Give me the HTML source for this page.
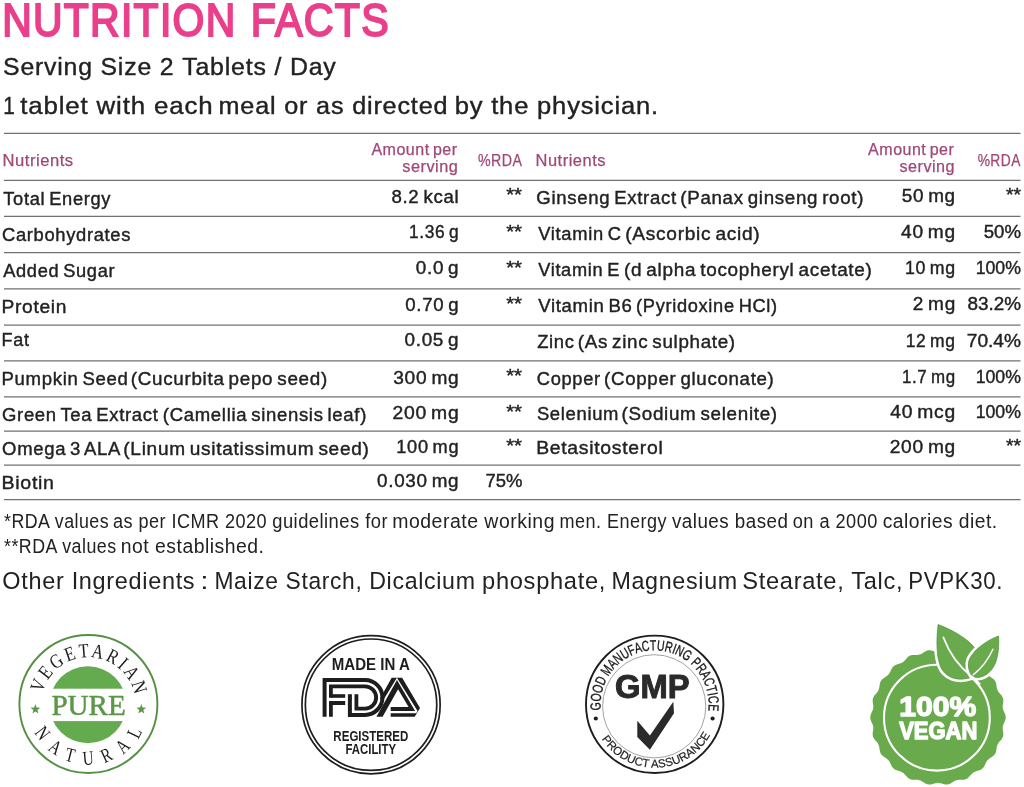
<!DOCTYPE html>
<html lang="en">
<head>
<meta charset="utf-8">
<title>Nutrition Facts</title>
<style>
html,body{margin:0;padding:0;background:#fff;}
body{width:1024px;height:787px;overflow:hidden;}
svg{display:block;}
svg text{font-family:"Liberation Sans", Arial, sans-serif;}
svg text.serif{font-family:"Liberation Serif", "Times New Roman", serif;}
</style>
</head>
<body>
<svg width="1024" height="787" viewBox="0 0 1024 787">
<rect width="1024" height="787" fill="#ffffff"/>
<g id="heading">
<text y="36.05" font-size="46.50" fill="#ea3f8b" stroke="#ea3f8b" stroke-width="2.0" letter-spacing="1.5" stroke-linejoin="miter"><tspan x="2.13" textLength="234.41" lengthAdjust="spacingAndGlyphs">NUTRITION</tspan> <tspan x="250.70" textLength="139.39" lengthAdjust="spacingAndGlyphs">FACTS</tspan></text>
<text y="75.40" font-size="24.70" fill="#222222" stroke="#222222" stroke-width="0.4" letter-spacing="0.8"><tspan x="3.08" textLength="171.21" lengthAdjust="spacingAndGlyphs">Serving Size 2</tspan> <tspan x="182.20" textLength="154.41" lengthAdjust="spacingAndGlyphs">Tablets / Day</tspan></text>
<text y="113.90" font-size="24.70" fill="#222222" stroke="#222222" stroke-width="0.4" letter-spacing="0.8"><tspan x="3.25" textLength="12.18" lengthAdjust="spacingAndGlyphs">1</tspan> <tspan x="20.31" textLength="193.10" lengthAdjust="spacingAndGlyphs">tablet with each</tspan> <tspan x="218.56" textLength="229.79" lengthAdjust="spacingAndGlyphs">meal or as directed</tspan> <tspan x="454.67" textLength="204.23" lengthAdjust="spacingAndGlyphs">by the physician.</tspan></text>
</g>
<g id="rules" stroke="#707070" stroke-width="1.25">
<line x1="4" x2="1020.5" y1="133.3" y2="133.3"/>
<line x1="4" x2="1020.5" y1="180.4" y2="180.4"/>
<line x1="4" x2="1020.5" y1="216.3" y2="216.3"/>
<line x1="4" x2="1020.5" y1="252.5" y2="252.5"/>
<line x1="4" x2="1020.5" y1="288.8" y2="288.8"/>
<line x1="4" x2="1020.5" y1="325" y2="325"/>
<line x1="4" x2="1020.5" y1="360.8" y2="360.8"/>
<line x1="4" x2="1020.5" y1="396.8" y2="396.8"/>
<line x1="4" x2="1020.5" y1="431" y2="431"/>
<line x1="4" x2="1020.5" y1="465.2" y2="465.2"/>
<line x1="4" x2="1020.5" y1="499.5" y2="499.5"/>
</g>
<g id="table-head">
<text y="165.90" font-size="16.00" fill="#a04878" stroke="#a04878" stroke-width="0.25" word-spacing="-1.6" letter-spacing="0.5"><tspan x="2.60" textLength="71.00" lengthAdjust="spacingAndGlyphs">Nutrients</tspan></text>
<text y="154.50" font-size="16.00" fill="#a04878" stroke="#a04878" stroke-width="0.25" word-spacing="-1.6" letter-spacing="0.5"><tspan x="371.38" textLength="86.23" lengthAdjust="spacingAndGlyphs">Amount per</tspan></text>
<text y="171.75" font-size="16.00" fill="#a04878" stroke="#a04878" stroke-width="0.25" word-spacing="-1.6" letter-spacing="0.5"><tspan x="402.22" textLength="56.12" lengthAdjust="spacingAndGlyphs">serving</tspan></text>
<text y="166.25" font-size="16.00" fill="#a04878" stroke="#a04878" stroke-width="0.25" word-spacing="-1.6" letter-spacing="0.5"><tspan x="477.88" textLength="44.45" lengthAdjust="spacingAndGlyphs">%RDA</tspan></text>
<text y="165.90" font-size="16.00" fill="#a04878" stroke="#a04878" stroke-width="0.25" word-spacing="-1.6" letter-spacing="0.5"><tspan x="535.56" textLength="70.43" lengthAdjust="spacingAndGlyphs">Nutrients</tspan></text>
<text y="154.50" font-size="16.00" fill="#a04878" stroke="#a04878" stroke-width="0.25" word-spacing="-1.6" letter-spacing="0.5"><tspan x="868.12" textLength="86.23" lengthAdjust="spacingAndGlyphs">Amount per</tspan></text>
<text y="171.75" font-size="16.00" fill="#a04878" stroke="#a04878" stroke-width="0.25" word-spacing="-1.6" letter-spacing="0.5"><tspan x="899.47" textLength="55.61" lengthAdjust="spacingAndGlyphs">serving</tspan></text>
<text y="166.25" font-size="16.00" fill="#a04878" stroke="#a04878" stroke-width="0.25" word-spacing="-1.6" letter-spacing="0.5"><tspan x="977.64" textLength="43.17" lengthAdjust="spacingAndGlyphs">%RDA</tspan></text>
</g>
<g id="table-left">
<text y="204.50" font-size="19.10" fill="#222222" stroke="#222222" stroke-width="0.42" word-spacing="-1.91" letter-spacing="0.7"><tspan x="3.24" textLength="107.94" lengthAdjust="spacingAndGlyphs">Total Energy</tspan></text>
<text y="202.50" font-size="19.10" fill="#222222" stroke="#222222" stroke-width="0.42" word-spacing="-1.91" letter-spacing="0.7"><tspan x="391.46" textLength="67.85" lengthAdjust="spacingAndGlyphs">8.2 kcal</tspan></text>
<text y="201.40" font-size="19.10" fill="#222222" stroke="#222222" stroke-width="0.42" word-spacing="-1.91"><tspan x="506.15" textLength="15.91" lengthAdjust="spacingAndGlyphs">**</tspan></text>
<text y="240.75" font-size="19.10" fill="#222222" stroke="#222222" stroke-width="0.42" word-spacing="-1.91" letter-spacing="0.7"><tspan x="1.99" textLength="129.10" lengthAdjust="spacingAndGlyphs">Carbohydrates</tspan></text>
<text y="238.25" font-size="19.10" fill="#222222" stroke="#222222" stroke-width="0.42" word-spacing="-1.91" letter-spacing="0.7"><tspan x="408.91" textLength="50.26" lengthAdjust="spacingAndGlyphs">1.36 g</tspan></text>
<text y="237.50" font-size="19.10" fill="#222222" stroke="#222222" stroke-width="0.42" word-spacing="-1.91"><tspan x="506.15" textLength="15.91" lengthAdjust="spacingAndGlyphs">**</tspan></text>
<text y="277.00" font-size="19.10" fill="#222222" stroke="#222222" stroke-width="0.42" word-spacing="-1.91" letter-spacing="0.7"><tspan x="3.21" textLength="111.99" lengthAdjust="spacingAndGlyphs">Added Sugar</tspan></text>
<text y="274.25" font-size="19.10" fill="#222222" stroke="#222222" stroke-width="0.42" word-spacing="-1.91" letter-spacing="0.7"><tspan x="415.80" textLength="43.50" lengthAdjust="spacingAndGlyphs">0.0 g</tspan></text>
<text y="273.70" font-size="19.10" fill="#222222" stroke="#222222" stroke-width="0.42" word-spacing="-1.91"><tspan x="506.15" textLength="15.91" lengthAdjust="spacingAndGlyphs">**</tspan></text>
<text y="313.10" font-size="19.10" fill="#222222" stroke="#222222" stroke-width="0.42" word-spacing="-1.91" letter-spacing="0.7"><tspan x="1.47" textLength="65.74" lengthAdjust="spacingAndGlyphs">Protein</tspan></text>
<text y="310.50" font-size="19.10" fill="#222222" stroke="#222222" stroke-width="0.42" word-spacing="-1.91" letter-spacing="0.7"><tspan x="405.31" textLength="53.99" lengthAdjust="spacingAndGlyphs">0.70 g</tspan></text>
<text y="309.90" font-size="19.10" fill="#222222" stroke="#222222" stroke-width="0.42" word-spacing="-1.91"><tspan x="506.15" textLength="15.91" lengthAdjust="spacingAndGlyphs">**</tspan></text>
<text y="346.25" font-size="19.10" fill="#222222" stroke="#222222" stroke-width="0.42" word-spacing="-1.91" letter-spacing="0.7"><tspan x="1.57" textLength="27.97" lengthAdjust="spacingAndGlyphs">Fat</tspan></text>
<text y="346.25" font-size="19.10" fill="#222222" stroke="#222222" stroke-width="0.42" word-spacing="-1.91" letter-spacing="0.7"><tspan x="404.55" textLength="54.77" lengthAdjust="spacingAndGlyphs">0.05 g</tspan></text>
<text y="384.50" font-size="19.10" fill="#222222" stroke="#222222" stroke-width="0.42" word-spacing="-1.91" letter-spacing="0.7"><tspan x="1.52" textLength="127.04" lengthAdjust="spacingAndGlyphs">Pumpkin Seed</tspan> <tspan x="130.83" textLength="197.03" lengthAdjust="spacingAndGlyphs">(Cucurbita pepo seed)</tspan></text>
<text y="384.25" font-size="19.10" fill="#222222" stroke="#222222" stroke-width="0.42" word-spacing="-1.91" letter-spacing="0.7"><tspan x="393.29" textLength="66.06" lengthAdjust="spacingAndGlyphs">300 mg</tspan></text>
<text y="381.90" font-size="19.10" fill="#222222" stroke="#222222" stroke-width="0.42" word-spacing="-1.91"><tspan x="506.15" textLength="15.91" lengthAdjust="spacingAndGlyphs">**</tspan></text>
<text y="420.50" font-size="19.10" fill="#222222" stroke="#222222" stroke-width="0.42" word-spacing="-1.91" letter-spacing="0.7"><tspan x="1.99" textLength="156.50" lengthAdjust="spacingAndGlyphs">Green Tea Extract</tspan> <tspan x="162.85" textLength="204.18" lengthAdjust="spacingAndGlyphs">(Camellia sinensis leaf)</tspan></text>
<text y="418.75" font-size="19.10" fill="#222222" stroke="#222222" stroke-width="0.42" word-spacing="-1.91" letter-spacing="0.7"><tspan x="392.49" textLength="66.88" lengthAdjust="spacingAndGlyphs">200 mg</tspan></text>
<text y="418.10" font-size="19.10" fill="#222222" stroke="#222222" stroke-width="0.42" word-spacing="-1.91"><tspan x="506.15" textLength="15.91" lengthAdjust="spacingAndGlyphs">**</tspan></text>
<text y="455.00" font-size="19.10" fill="#222222" stroke="#222222" stroke-width="0.42" word-spacing="-1.91" letter-spacing="0.7"><tspan x="2.08" textLength="117.90" lengthAdjust="spacingAndGlyphs">Omega 3 ALA</tspan> <tspan x="123.32" textLength="246.23" lengthAdjust="spacingAndGlyphs">(Linum usitatissimum seed)</tspan></text>
<text y="453.00" font-size="19.10" fill="#222222" stroke="#222222" stroke-width="0.42" word-spacing="-1.91" letter-spacing="0.7"><tspan x="396.34" textLength="62.92" lengthAdjust="spacingAndGlyphs">100 mg</tspan></text>
<text y="452.10" font-size="19.10" fill="#222222" stroke="#222222" stroke-width="0.42" word-spacing="-1.91"><tspan x="506.15" textLength="15.91" lengthAdjust="spacingAndGlyphs">**</tspan></text>
<text y="488.90" font-size="19.10" fill="#222222" stroke="#222222" stroke-width="0.42" word-spacing="-1.91" letter-spacing="0.7"><tspan x="1.44" textLength="53.27" lengthAdjust="spacingAndGlyphs">Biotin</tspan></text>
<text y="487.00" font-size="19.10" fill="#222222" stroke="#222222" stroke-width="0.42" word-spacing="-1.91" letter-spacing="0.7"><tspan x="377.05" textLength="82.25" lengthAdjust="spacingAndGlyphs">0.030 mg</tspan></text>
<text y="487.00" font-size="19.10" fill="#222222" stroke="#222222" stroke-width="0.42" word-spacing="-1.91"><tspan x="485.54" textLength="36.93" lengthAdjust="spacingAndGlyphs">75%</tspan></text>
</g>
<g id="table-right">
<text y="204.00" font-size="19.10" fill="#222222" stroke="#222222" stroke-width="0.42" word-spacing="-1.91" letter-spacing="0.7"><tspan x="536.28" textLength="140.52" lengthAdjust="spacingAndGlyphs">Ginseng Extract</tspan> <tspan x="680.34" textLength="183.73" lengthAdjust="spacingAndGlyphs">(Panax ginseng root)</tspan></text>
<text y="202.00" font-size="19.10" fill="#222222" stroke="#222222" stroke-width="0.42" word-spacing="-1.91" letter-spacing="0.7"><tspan x="901.70" textLength="54.15" lengthAdjust="spacingAndGlyphs">50 mg</tspan></text>
<text y="201.40" font-size="19.10" fill="#222222" stroke="#222222" stroke-width="0.42" word-spacing="-1.91"><tspan x="1005.92" textLength="15.13" lengthAdjust="spacingAndGlyphs">**</tspan></text>
<text y="240.00" font-size="19.10" fill="#222222" stroke="#222222" stroke-width="0.42" word-spacing="-1.91" letter-spacing="0.7"><tspan x="538.21" textLength="83.42" lengthAdjust="spacingAndGlyphs">Vitamin C</tspan> <tspan x="625.31" textLength="135.04" lengthAdjust="spacingAndGlyphs">(Ascorbic acid)</tspan></text>
<text y="238.00" font-size="19.10" fill="#222222" stroke="#222222" stroke-width="0.42" word-spacing="-1.91" letter-spacing="0.7"><tspan x="901.08" textLength="54.80" lengthAdjust="spacingAndGlyphs">40 mg</tspan></text>
<text y="238.00" font-size="19.10" fill="#222222" stroke="#222222" stroke-width="0.42" word-spacing="-1.91"><tspan x="983.72" textLength="37.25" lengthAdjust="spacingAndGlyphs">50%</tspan></text>
<text y="276.25" font-size="19.10" fill="#222222" stroke="#222222" stroke-width="0.42" word-spacing="-1.91" letter-spacing="0.7"><tspan x="538.21" textLength="81.75" lengthAdjust="spacingAndGlyphs">Vitamin E</tspan> <tspan x="624.07" textLength="248.49" lengthAdjust="spacingAndGlyphs">(d alpha tocopheryl acetate)</tspan></text>
<text y="273.75" font-size="19.10" fill="#222222" stroke="#222222" stroke-width="0.42" word-spacing="-1.91" letter-spacing="0.7"><tspan x="904.88" textLength="50.87" lengthAdjust="spacingAndGlyphs">10 mg</tspan></text>
<text y="273.75" font-size="19.10" fill="#222222" stroke="#222222" stroke-width="0.42" word-spacing="-1.91"><tspan x="975.63" textLength="45.23" lengthAdjust="spacingAndGlyphs">100%</tspan></text>
<text y="312.30" font-size="19.10" fill="#222222" stroke="#222222" stroke-width="0.42" word-spacing="-1.91" letter-spacing="0.7"><tspan x="538.21" textLength="94.30" lengthAdjust="spacingAndGlyphs">Vitamin B6</tspan> <tspan x="636.12" textLength="141.68" lengthAdjust="spacingAndGlyphs">(Pyridoxine HCl)</tspan></text>
<text y="310.00" font-size="19.10" fill="#222222" stroke="#222222" stroke-width="0.42" word-spacing="-1.91" letter-spacing="0.7"><tspan x="912.76" textLength="43.18" lengthAdjust="spacingAndGlyphs">2 mg</tspan></text>
<text y="310.00" font-size="19.10" fill="#222222" stroke="#222222" stroke-width="0.42" word-spacing="-1.91"><tspan x="967.46" textLength="53.50" lengthAdjust="spacingAndGlyphs">83.2%</tspan></text>
<text y="348.25" font-size="19.10" fill="#222222" stroke="#222222" stroke-width="0.42" word-spacing="-1.91" letter-spacing="0.7"><tspan x="537.16" textLength="37.50" lengthAdjust="spacingAndGlyphs">Zinc</tspan> <tspan x="577.83" textLength="157.99" lengthAdjust="spacingAndGlyphs">(As zinc sulphate)</tspan></text>
<text y="346.75" font-size="19.10" fill="#222222" stroke="#222222" stroke-width="0.42" word-spacing="-1.91" letter-spacing="0.7"><tspan x="905.65" textLength="50.07" lengthAdjust="spacingAndGlyphs">12 mg</tspan></text>
<text y="346.75" font-size="19.10" fill="#222222" stroke="#222222" stroke-width="0.42" word-spacing="-1.91"><tspan x="966.75" textLength="54.21" lengthAdjust="spacingAndGlyphs">70.4%</tspan></text>
<text y="384.50" font-size="19.10" fill="#222222" stroke="#222222" stroke-width="0.42" word-spacing="-1.91" letter-spacing="0.7"><tspan x="536.80" textLength="63.94" lengthAdjust="spacingAndGlyphs">Copper</tspan> <tspan x="604.09" textLength="170.43" lengthAdjust="spacingAndGlyphs">(Copper gluconate)</tspan></text>
<text y="382.50" font-size="19.10" fill="#222222" stroke="#222222" stroke-width="0.42" word-spacing="-1.91" letter-spacing="0.7"><tspan x="901.94" textLength="53.77" lengthAdjust="spacingAndGlyphs">1.7 mg</tspan></text>
<text y="382.50" font-size="19.10" fill="#222222" stroke="#222222" stroke-width="0.42" word-spacing="-1.91"><tspan x="975.63" textLength="45.23" lengthAdjust="spacingAndGlyphs">100%</tspan></text>
<text y="420.00" font-size="19.10" fill="#222222" stroke="#222222" stroke-width="0.42" word-spacing="-1.91" letter-spacing="0.7"><tspan x="536.88" textLength="82.27" lengthAdjust="spacingAndGlyphs">Selenium</tspan> <tspan x="621.58" textLength="156.21" lengthAdjust="spacingAndGlyphs">(Sodium selenite)</tspan></text>
<text y="418.25" font-size="19.10" fill="#222222" stroke="#222222" stroke-width="0.42" word-spacing="-1.91" letter-spacing="0.7"><tspan x="890.32" textLength="65.57" lengthAdjust="spacingAndGlyphs">40 mcg</tspan></text>
<text y="418.25" font-size="19.10" fill="#222222" stroke="#222222" stroke-width="0.42" word-spacing="-1.91"><tspan x="975.63" textLength="45.23" lengthAdjust="spacingAndGlyphs">100%</tspan></text>
<text y="453.75" font-size="19.10" fill="#222222" stroke="#222222" stroke-width="0.42" word-spacing="-1.91" letter-spacing="0.7"><tspan x="536.16" textLength="127.33" lengthAdjust="spacingAndGlyphs">Betasitosterol</tspan></text>
<text y="452.50" font-size="19.10" fill="#222222" stroke="#222222" stroke-width="0.42" word-spacing="-1.91" letter-spacing="0.7"><tspan x="889.75" textLength="66.15" lengthAdjust="spacingAndGlyphs">200 mg</tspan></text>
<text y="452.10" font-size="19.10" fill="#222222" stroke="#222222" stroke-width="0.42" word-spacing="-1.91"><tspan x="1005.92" textLength="15.13" lengthAdjust="spacingAndGlyphs">**</tspan></text>
</g>
<g id="footnotes">
<text y="528.20" font-size="19.50" fill="#222222" letter-spacing="0.5"><tspan x="4.03" textLength="105.03" lengthAdjust="spacingAndGlyphs">*RDA values</tspan> <tspan x="113.03" textLength="154.07" lengthAdjust="spacingAndGlyphs">as per ICMR 2020</tspan> <tspan x="272.27" textLength="115.70" lengthAdjust="spacingAndGlyphs">guidelines for</tspan> <tspan x="392.23" textLength="162.75" lengthAdjust="spacingAndGlyphs">moderate working</tspan> <tspan x="559.58" textLength="107.38" lengthAdjust="spacingAndGlyphs">men. Energy</tspan> <tspan x="672.00" textLength="116.42" lengthAdjust="spacingAndGlyphs">values based</tspan> <tspan x="792.77" textLength="85.06" lengthAdjust="spacingAndGlyphs">on a 2000</tspan> <tspan x="882.73" textLength="114.97" lengthAdjust="spacingAndGlyphs">calories diet.</tspan></text>
<text y="553.40" font-size="19.50" fill="#222222" letter-spacing="0.5"><tspan x="4.03" textLength="112.51" lengthAdjust="spacingAndGlyphs">**RDA values</tspan> <tspan x="120.74" textLength="143.75" lengthAdjust="spacingAndGlyphs">not established.</tspan></text>
<text y="588.90" font-size="23.90" fill="#222222" letter-spacing="0.7"><tspan x="2.34" textLength="192.95" lengthAdjust="spacingAndGlyphs">Other Ingredients</tspan> <tspan x="200.30" textLength="9.21" lengthAdjust="spacingAndGlyphs">:</tspan> <tspan x="214.43" textLength="148.01" lengthAdjust="spacingAndGlyphs">Maize Starch,</tspan> <tspan x="369.15" textLength="106.52" lengthAdjust="spacingAndGlyphs">Dicalcium</tspan> <tspan x="482.08" textLength="123.96" lengthAdjust="spacingAndGlyphs">phosphate,</tspan> <tspan x="611.39" textLength="126.54" lengthAdjust="spacingAndGlyphs">Magnesium</tspan> <tspan x="742.18" textLength="102.35" lengthAdjust="spacingAndGlyphs">Stearate,</tspan> <tspan x="851.28" textLength="51.94" lengthAdjust="spacingAndGlyphs">Talc,</tspan> <tspan x="908.22" textLength="94.90" lengthAdjust="spacingAndGlyphs">PVPK30.</tspan></text>
</g>
<g id="badge-vegetarian">
<circle cx="88.4" cy="704.0" r="69" fill="none" stroke="#558f43" stroke-width="1.9"/>
<circle cx="87.9" cy="704.75" r="38.5" fill="#63ab4e"/>
<rect x="45" y="688.7" width="86" height="32.4" fill="#fff"/>
<text x="51.42" y="714.70" font-size="29.50" fill="#5a9748" textLength="74.37" lengthAdjust="spacingAndGlyphs" class="serif" stroke="#5a9748" stroke-width="0.5" stroke-linejoin="round">PURE</text>
<polygon points="35.40,704.10 36.63,707.60 40.35,707.69 37.40,709.95 38.46,713.51 35.40,711.40 32.34,713.51 33.40,709.95 30.45,707.69 34.17,707.60" fill="#5a9748"/>
<polygon points="141.30,704.10 142.53,707.60 146.25,707.69 143.30,709.95 144.36,713.51 141.30,711.40 138.24,713.51 139.30,709.95 136.35,707.69 140.07,707.60" fill="#5a9748"/>
<path id="veg-top" d="M 88.40 751.60 A 47.20 47.20 0 1 1 88.41 751.60" fill="none"/>
<path id="veg-bot" d="M 88.40 643.40 A 60.60 60.60 0 1 0 88.41 643.40" fill="none"/>
<text font-size="20.00" fill="#1c1c1c" class="serif" letter-spacing="3.12" textLength="129.97" lengthAdjust="spacingAndGlyphs"><textPath href="#veg-top" startOffset="84.69">VEGETARIAN</textPath></text>
<text font-size="20.00" fill="#1c1c1c" class="serif" letter-spacing="13.48" textLength="142.64" lengthAdjust="spacingAndGlyphs"><textPath href="#veg-bot" startOffset="124.43">NATURAL</textPath></text>
</g>
<g id="badge-fda">
<circle cx="371.05" cy="704.7" r="69.1" fill="none" stroke="#1d1d1d" stroke-width="1.7"/>
<circle cx="371.05" cy="704.7" r="65.7" fill="none" stroke="#1d1d1d" stroke-width="1.7"/>
<text x="331.72" y="670.00" font-size="15.80" fill="#1d1d1d" textLength="78.08" lengthAdjust="spacingAndGlyphs" font-weight="bold">MADE IN A</text>
<text x="333.35" y="741.40" font-size="14.60" fill="#1d1d1d" textLength="75.07" lengthAdjust="spacingAndGlyphs" font-weight="bold">REGISTERED</text>
<text x="345.46" y="754.20" font-size="14.00" fill="#1d1d1d" textLength="50.60" lengthAdjust="spacingAndGlyphs" font-weight="bold">FACILITY</text>
<g fill="none" stroke="#1d1d1d" stroke-width="4" stroke-linejoin="miter" stroke-linecap="butt">
<path d="M 324.6 716.8 V 680 H 365 A 17.45 17.45 0 0 1 365 714.9 H 349.9 V 694.2"/>
<path d="M 356.4 694.2 V 708.6 H 365 A 11.15 11.15 0 0 0 365 686.3 H 330.9 V 697.8" stroke-width="3.8"/>
<path d="M 330.9 696 H 345.2" stroke-width="3.6"/>
<path d="M 330.9 716.8 V 703 H 345.2" stroke-width="3.8"/>
</g>
<polygon points="379.77,699.00 391.70,677.70 402.16,677.70 420.00,708.00 414.70,716.80 390.70,716.80 390.70,713.25 416.20,713.25 417.58,711.00 396.90,677.70 383.97,699.00" fill="#1d1d1d"/>
<polygon points="376.40,716.80 396.96,680.08 415.12,710.90 390.70,710.90 390.70,707.10 408.58,707.10 398.05,689.22 382.60,716.80" fill="#1d1d1d"/>
</g>
<g id="badge-gmp">
<circle cx="654.7" cy="704.3" r="68.7" fill="none" stroke="#1d1d1d" stroke-width="1.9"/>
<circle cx="654.2" cy="706.3" r="51.6" fill="none" stroke="#8a8a8a" stroke-width="0.8"/>
<circle cx="595.8" cy="718.5" r="2.1" fill="#1d1d1d"/><circle cx="712.6" cy="718.5" r="2.1" fill="#1d1d1d"/>
<text x="615.09" y="698.20" font-size="33.50" fill="#2a2a2a" textLength="74.59" lengthAdjust="spacingAndGlyphs" font-weight="bold" stroke="#2a2a2a" stroke-width="1.0" stroke-linejoin="round">GMP</text>
<polygon points="637.3,720.8 649.9,735.4 673.3,701.8 674.0,713.3 649.9,749.7 637.3,736.9" fill="#2a2a2a"/>
<path id="gmp-top" d="M 654.70 758.30 A 54.00 54.00 0 1 1 654.71 758.30" fill="none"/>
<path id="gmp-bot" d="M 654.70 640.90 A 63.40 63.40 0 1 0 654.71 640.90" fill="none"/>
<text font-size="14.60" fill="#1d1d1d" stroke="#1d1d1d" stroke-width="0.35" textLength="181.90" lengthAdjust="spacingAndGlyphs"><textPath href="#gmp-top" startOffset="78.65">GOOD MANUFACTURING PRACTICE</textPath></text>
<text font-size="11.60" fill="#1d1d1d" stroke="#1d1d1d" stroke-width="0.2" textLength="129.76" lengthAdjust="spacingAndGlyphs"><textPath href="#gmp-bot" startOffset="136.30">PRODUCT ASSURANCE</textPath></text>
</g>
<g id="badge-vegan">
<polygon points="1005.75,717.40 1005.65,718.61 1005.37,719.81 1004.94,720.99 1004.43,722.15 1003.90,723.30 1003.41,724.43 1003.03,725.57 1002.78,726.71 1002.69,727.88 1002.74,729.08 1002.89,730.31 1003.08,731.56 1003.24,732.82 1003.32,734.07 1003.25,735.30 1003.01,736.49 1002.57,737.62 1001.96,738.69 1001.22,739.70 1000.40,740.67 999.57,741.62 998.78,742.58 998.09,743.56 997.54,744.59 997.12,745.69 996.83,746.85 996.62,748.07 996.45,749.32 996.26,750.57 995.98,751.80 995.57,752.96 994.99,754.03 994.26,754.99 993.37,755.85 992.38,756.61 991.32,757.31 990.25,757.99 989.22,758.68 988.29,759.43 987.46,760.26 986.76,761.20 986.15,762.23 985.61,763.34 985.09,764.49 984.55,765.64 983.94,766.74 983.22,767.74 982.37,768.60 981.39,769.32 980.30,769.89 979.13,770.34 977.91,770.72 976.70,771.06 975.52,771.44 974.41,771.89 973.38,772.46 972.44,773.16 971.57,773.98 970.74,774.89 969.92,775.85 969.07,776.80 968.18,777.68 967.20,778.44 966.14,779.03 965.00,779.44 963.80,779.68 962.55,779.79 961.27,779.80 960.01,779.79 958.78,779.82 957.58,779.94 956.44,780.20 955.34,780.60 954.27,781.14 953.21,781.79 952.16,782.48 951.08,783.15 949.97,783.74 948.82,784.19 947.64,784.46 946.43,784.53 945.21,784.43 943.98,784.17 942.75,783.83 941.54,783.47 940.35,783.14 939.17,782.93 938.00,782.85 936.83,782.93 935.65,783.14 934.46,783.47 933.25,783.83 932.02,784.17 930.79,784.43 929.57,784.53 928.36,784.46 927.18,784.19 926.03,783.74 924.92,783.15 923.84,782.48 922.79,781.79 921.73,781.14 920.66,780.60 919.56,780.20 918.42,779.94 917.22,779.82 915.99,779.79 914.73,779.80 913.45,779.79 912.20,779.68 911.00,779.44 909.86,779.03 908.80,778.44 907.82,777.68 906.93,776.80 906.08,775.85 905.26,774.89 904.43,773.98 903.56,773.16 902.62,772.46 901.59,771.89 900.48,771.44 899.30,771.06 898.09,770.72 896.87,770.34 895.70,769.89 894.61,769.32 893.63,768.60 892.78,767.74 892.06,766.74 891.45,765.64 890.91,764.49 890.39,763.34 889.85,762.23 889.24,761.20 888.54,760.26 887.71,759.43 886.78,758.68 885.75,757.99 884.68,757.31 883.62,756.61 882.63,755.85 881.74,754.99 881.01,754.03 880.43,752.96 880.02,751.80 879.74,750.57 879.55,749.32 879.38,748.07 879.17,746.85 878.88,745.69 878.46,744.59 877.91,743.56 877.22,742.58 876.43,741.62 875.60,740.67 874.78,739.70 874.04,738.69 873.43,737.62 872.99,736.49 872.75,735.30 872.68,734.07 872.76,732.82 872.92,731.56 873.11,730.31 873.26,729.08 873.31,727.88 873.22,726.71 872.97,725.57 872.59,724.43 872.10,723.30 871.57,722.15 871.06,720.99 870.63,719.81 870.35,718.61 870.25,717.40 870.35,716.19 870.63,714.99 871.06,713.81 871.57,712.65 872.10,711.50 872.59,710.37 872.97,709.23 873.22,708.09 873.31,706.92 873.26,705.72 873.11,704.49 872.92,703.24 872.76,701.98 872.68,700.73 872.75,699.50 872.99,698.31 873.43,697.18 874.04,696.11 874.78,695.10 875.60,694.13 876.43,693.18 877.22,692.22 877.91,691.24 878.46,690.21 878.88,689.11 879.17,687.95 879.38,686.73 879.55,685.48 879.74,684.23 880.02,683.00 880.43,681.84 881.01,680.77 881.74,679.81 882.63,678.95 883.62,678.19 884.68,677.49 885.75,676.81 886.78,676.12 887.71,675.37 888.54,674.54 889.24,673.60 889.85,672.57 890.39,671.46 890.91,670.31 891.45,669.16 892.06,668.06 892.78,667.06 893.63,666.20 894.61,665.48 895.70,664.91 896.87,664.46 898.09,664.08 899.30,663.74 900.48,663.36 901.59,662.91 902.62,662.34 903.56,661.64 904.43,660.82 905.26,659.91 906.08,658.95 906.93,658.00 907.82,657.12 908.80,656.36 909.86,655.77 911.00,655.36 912.20,655.12 913.45,655.01 914.73,655.00 915.99,655.01 917.22,654.98 918.42,654.86 919.56,654.60 920.66,654.20 921.73,653.66 922.79,653.01 923.84,652.32 924.92,651.65 926.03,651.06 927.18,650.61 928.36,650.34 929.57,650.27 930.79,650.37 932.02,650.63 933.25,650.97 934.46,651.33 935.65,651.66 936.83,651.87 938.00,651.95 939.17,651.87 940.35,651.66 941.54,651.33 942.75,650.97 943.98,650.63 945.21,650.37 946.43,650.27 947.64,650.34 948.82,650.61 949.97,651.06 951.08,651.65 952.16,652.32 953.21,653.01 954.27,653.66 955.34,654.20 956.44,654.60 957.58,654.86 958.78,654.98 960.01,655.01 961.27,655.00 962.55,655.01 963.80,655.12 965.00,655.36 966.14,655.77 967.20,656.36 968.18,657.12 969.07,658.00 969.92,658.95 970.74,659.91 971.57,660.82 972.44,661.64 973.38,662.34 974.41,662.91 975.52,663.36 976.70,663.74 977.91,664.08 979.13,664.46 980.30,664.91 981.39,665.48 982.37,666.20 983.22,667.06 983.94,668.06 984.55,669.16 985.09,670.31 985.61,671.46 986.15,672.57 986.76,673.60 987.46,674.54 988.29,675.37 989.22,676.12 990.25,676.81 991.32,677.49 992.38,678.19 993.37,678.95 994.26,679.81 994.99,680.77 995.57,681.84 995.98,683.00 996.26,684.23 996.45,685.48 996.62,686.73 996.83,687.95 997.12,689.11 997.54,690.21 998.09,691.24 998.78,692.22 999.57,693.18 1000.40,694.13 1001.22,695.10 1001.96,696.11 1002.57,697.18 1003.01,698.31 1003.25,699.50 1003.32,700.73 1003.24,701.98 1003.08,703.24 1002.89,704.49 1002.74,705.72 1002.69,706.92 1002.78,708.09 1003.03,709.23 1003.41,710.37 1003.90,711.50 1004.43,712.65 1004.94,713.81 1005.37,714.99 1005.65,716.19" fill="#69aa4d"/>
<circle cx="936.9" cy="717.7" r="52.9" fill="none" stroke="#fff" stroke-width="2.1"/>
<text x="899.30" y="716.00" font-size="27.50" fill="#fff" textLength="76.88" lengthAdjust="spacingAndGlyphs" font-weight="bold" stroke="#fff" stroke-width="1.4" stroke-linejoin="round">100%</text>
<text x="899.19" y="738.90" font-size="23.70" fill="#fff" textLength="78.17" lengthAdjust="spacingAndGlyphs" font-weight="bold" stroke="#fff" stroke-width="1.4" stroke-linejoin="round">VEGAN</text>
<path d="M 938.1 624.5 C 936.3 640 936.3 655 940.3 666 C 944.5 677 957 682.5 972 677 C 981 668 980.5 655.5 974.8 647.9 C 968 639.5 955 631 938.1 624.5 Z" fill="#fff" stroke="#fff" stroke-width="6" stroke-linejoin="round"/>
<path d="M 938.1 624.5 C 936.3 640 936.3 655 940.3 666 C 944.5 677 957 682.5 972 677 C 981 668 980.5 655.5 974.8 647.9 C 968 639.5 955 631 938.1 624.5 Z" fill="#69aa4d" stroke="#4b8f3b" stroke-width="0.7"/>
<path d="M 943.4 637.4 C 948 650 957 665 971.5 676.3" fill="none" stroke="#fff" stroke-width="1.7" stroke-linecap="round"/>
<path d="M 998.6 636 C 988 640 975 648 969.5 659 C 967 665 968.8 672 972.5 676.5 C 980 679.5 990 675 995 664 C 998.3 656 999.2 646 998.6 636 Z" fill="#fff" stroke="#fff" stroke-width="6" stroke-linejoin="round"/>
<path d="M 998.6 636 C 988 640 975 648 969.5 659 C 967 665 968.8 672 972.5 676.5 C 980 679.5 990 675 995 664 C 998.3 656 999.2 646 998.6 636 Z" fill="#69aa4d" stroke="#4b8f3b" stroke-width="0.7"/>
<path d="M 992.9 649.3 C 989 658 982 668 973.4 674.6" fill="none" stroke="#fff" stroke-width="1.5" stroke-linecap="round"/>
<path d="M 971.5 676.4 Q 975 679 979.5 684" fill="none" stroke="#fff" stroke-width="2.2" stroke-linecap="round"/>
</g>
</svg>
</body>
</html>
